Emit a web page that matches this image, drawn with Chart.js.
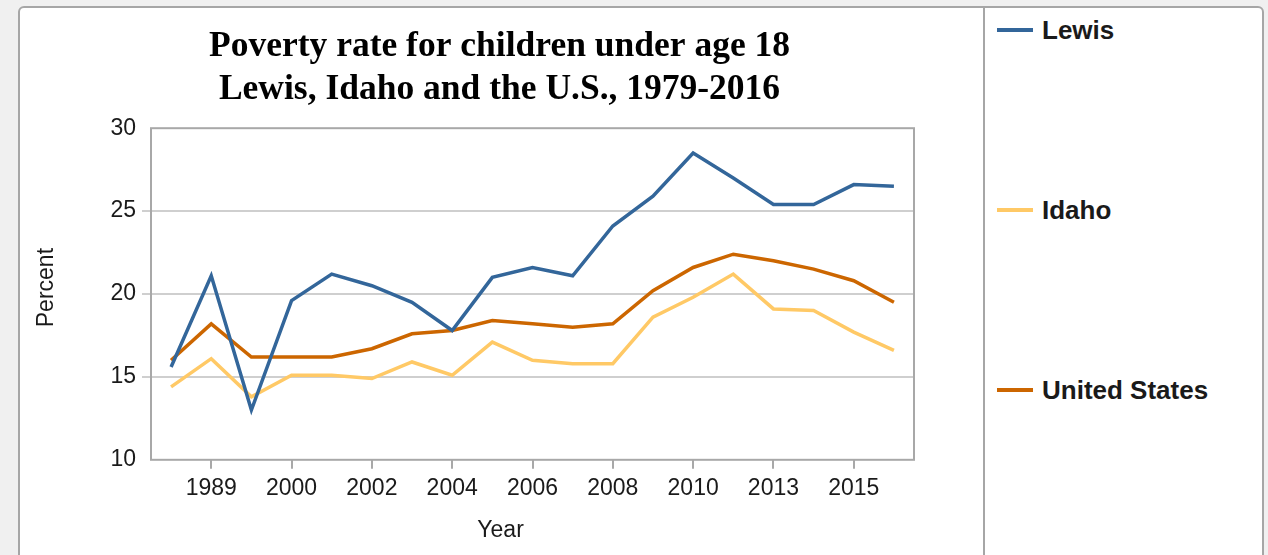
<!DOCTYPE html>
<html>
<head>
<meta charset="utf-8">
<script src="https://cdn.jsdelivr.net/npm/chart.js@4"></script>
<style>
  html, body { margin: 0; padding: 0; background: #f0f0f0; width: 1268px; height: 555px; overflow: hidden; }
  #panel {
    position: absolute; left: 18px; top: 6px; width: 1242px; height: 600px;
    background: #fff; border: 2px solid #a6a6a6; border-radius: 6px;
  }
  #divider { position: absolute; left: 983px; top: 6px; width: 2px; height: 600px; background: #a6a6a6; }
  #chartBox { position: absolute; left: 21px; top: 9px; width: 963px; height: 546px; }
  .leg { position: absolute; left: 997px; height: 28px; font: bold 26px "Liberation Sans", Arial, sans-serif; color: #1a1a1a; }
  .leg span.sw { position: absolute; left: 0; top: 12px; width: 36px; height: 4px; }
  .leg span.tx { position: absolute; left: 45px; top: 0; line-height: 28px; white-space: nowrap; }
</style>
</head>
<body>
<div id="panel"></div>
<div id="divider"></div>
<div id="chartBox"><canvas id="povertyChart" width="963" height="546"></canvas></div>
<div id="legend"></div>
<script>
// years on the x axis (one of 2011/2012 is not labelled in the source)
const years = ["1979", "1989", "1999", "2000", "2001", "2002", "2003", "2004", "2005", "2006",
  "2007", "2008", "2009", "2010", "2012", "2013", "2014", "2015", "2016"];

// poverty rate, percent of children under 18
const lewis = [15.6, 21.1, 13.0, 19.6, 21.2, 20.5, 19.5, 17.8, 21.0, 21.6,
  21.1, 24.1, 25.9, 28.5, 27.0, 25.4, 25.4, 26.6, 26.5];
const idaho = [14.4, 16.1, 13.8, 15.1, 15.1, 14.9, 15.9, 15.1, 17.1, 16.0,
  15.8, 15.8, 18.6, 19.8, 21.2, 19.1, 19.0, 17.7, 16.6];
const unitedStates = [16.0, 18.2, 16.2, 16.2, 16.2, 16.7, 17.6, 17.8, 18.4, 18.2,
  18.0, 18.2, 20.2, 21.6, 22.4, 22.0, 21.5, 20.8, 19.5];

const seriesNames = ["Lewis", "Idaho", "United States"];
const seriesColors = ["#33669a", "#ffc966", "#cc6600"];
const yTicks = [10, 15, 20, 25, 30];

const sansFont = '"Liberation Sans", Arial, sans-serif';
const nbsp = "\u00a0";

// draw the grey frame around the plot area
const plotFrame = {
  id: "plotFrame",
  beforeDatasetsDraw(chart) {
    const { ctx, chartArea: a } = chart;
    ctx.save();
    ctx.strokeStyle = "#a8a8a8";
    ctx.lineWidth = 2;
    ctx.strokeRect(a.left, a.top, a.right - a.left, a.bottom - a.top);
    ctx.restore();
  }
};

const ctx = document.getElementById("povertyChart").getContext("2d");
const povertyChart = new Chart(ctx, {
  type: "line",
  data: {
    labels: years,
    datasets: [lewis, idaho, unitedStates].map((values, i) => ({
      label: seriesNames[i],
      data: values,
      borderColor: seriesColors[i],
      backgroundColor: seriesColors[i],
      borderWidth: 3.5,
      pointRadius: 0,
      tension: 0,
      fill: false
    }))
  },
  options: {
    responsive: false,
    animation: false,
    layout: { padding: { left: 8, right: 14, top: 0, bottom: 7 } },
    plugins: {
      legend: { display: false },
      tooltip: { enabled: false },
      title: {
        display: true,
        text: ["Poverty rate for children under age 18", "Lewis, Idaho and the U.S., 1979-2016"],
        color: "#000",
        font: { family: '"Liberation Serif", "Times New Roman", serif', size: 35.5, weight: "bold", lineHeight: 1.2 },
        padding: { top: 17, bottom: 17 }
      }
    },
    scales: {
      x: {
        offset: true,
        border: { display: false },
        grid: { drawOnChartArea: false, tickLength: 9, color: "#a8a8a8", lineWidth: 2 },
        ticks: {
          autoSkip: false,
          maxRotation: 0,
          padding: 6,
          color: "#1a1a1a",
          font: { family: sansFont, size: 23 },
          callback: function (value, index) {
            return index % 2 === 1 ? this.getLabelForValue(value) : null;
          }
        },
        // trailing spaces nudge the title left, as in the source
        title: { display: true, text: "Year" + nbsp.repeat(10), color: "#1a1a1a", font: { family: sansFont, size: 23 }, padding: { top: 8, bottom: 4 } }
      },
      y: {
        min: yTicks[0],
        max: yTicks[yTicks.length - 1],
        afterBuildTicks: (scale) => { scale.ticks = yTicks.map(v => ({ value: v })); },
        afterFit: (scale) => { scale.width = 122; },
        border: { display: false },
        grid: {
          tickLength: 9,
          lineWidth: 2,
          color: (c) => (c.tick && (c.tick.value === 10 || c.tick.value === 30)) ? "rgba(0,0,0,0)" : "#cfcfcf"
        },
        ticks: { padding: 6, color: "#1a1a1a", font: { family: sansFont, size: 23 } },
        title: { display: true, text: nbsp.repeat(2) + "Percent", color: "#1a1a1a", font: { family: sansFont, size: 23 }, padding: { top: 4, bottom: 4 } }
      },
      // empty box on the right that keeps the plot clear of the panel divider
      spacer: {
        type: "linear",
        position: "right",
        min: 0,
        max: 1,
        border: { display: false },
        grid: { display: false },
        ticks: { display: false },
        afterFit: (scale) => { scale.width = 56; }
      }
    }
  },
  plugins: [plotFrame]
});

// legend in the right-hand panel
const legendTops = [16, 196, 376];
const legendBox = document.getElementById("legend");
seriesNames.forEach((name, i) => {
  const item = document.createElement("div");
  item.className = "leg";
  item.style.top = legendTops[i] + "px";
  item.innerHTML = '<span class="sw" style="background:' + seriesColors[i] + '"></span><span class="tx">' + name + '</span>';
  legendBox.appendChild(item);
});
</script>
</body>
</html>
